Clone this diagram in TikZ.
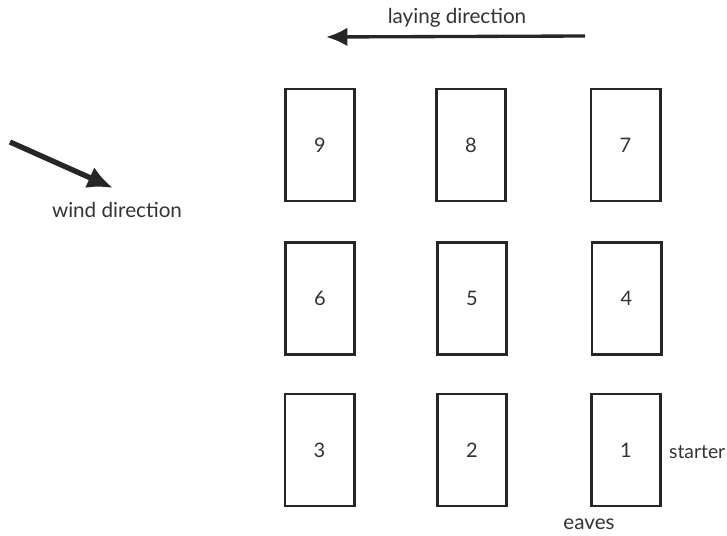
\documentclass[tikz,border=0pt]{standalone}
\usepackage{fontspec}
\setmainfont{Lato}
\usetikzlibrary{arrows.meta}
\begin{document}
\begin{tikzpicture}[x=0.75pt,y=-0.75pt,
  tile/.style={draw=black!85,line width=2pt,minimum width=52pt,minimum height=84pt,inner sep=0pt,font=\fontsize{15}{18}\selectfont,text=black!80},
  lbl/.style={font=\fontsize{15.5}{18}\selectfont,text=black!80,inner sep=0pt},
  arr/.style={line width=2.5pt,draw=black!85,-{Latex[length=16pt,width=14pt]}}]
\useasboundingbox (0,0) rectangle (727,535);
\node[tile] (t9) at (320,145) {9};
\node[tile] (t8) at (471,145) {8};
\node[tile] (t7) at (625.5,145) {7};
\node[tile] (t6) at (320,298.5) {6};
\node[tile] (t5) at (472,298.5) {5};
\node[tile] (t4) at (626.5,298.5) {4};
\node[tile] (t3) at (319.5,450) {3};
\node[tile] (t2) at (472,450) {2};
\node[tile] (t1) at (626,450) {1};
\node[lbl,anchor=east,font=\fontsize{14.5}{18}\selectfont] (starter) at (725.5,452) {starter};
\node[lbl] (eaves) at (589,524) {eaves};
\node[lbl] (laying) at (457,18) {laying direction};
\coordinate (ls) at (585,36);
\coordinate (le) at (326,37);
\draw[arr] (ls) -- (le);
\node[lbl] (wind) at (117,210) {wind direction};
\coordinate (ws) at (10,142);
\coordinate (we) at (113,188);
\draw[arr,line width=4pt,-{Latex[length=19pt,width=17pt]}] (ws) -- (we);
\end{tikzpicture}
\end{document}
